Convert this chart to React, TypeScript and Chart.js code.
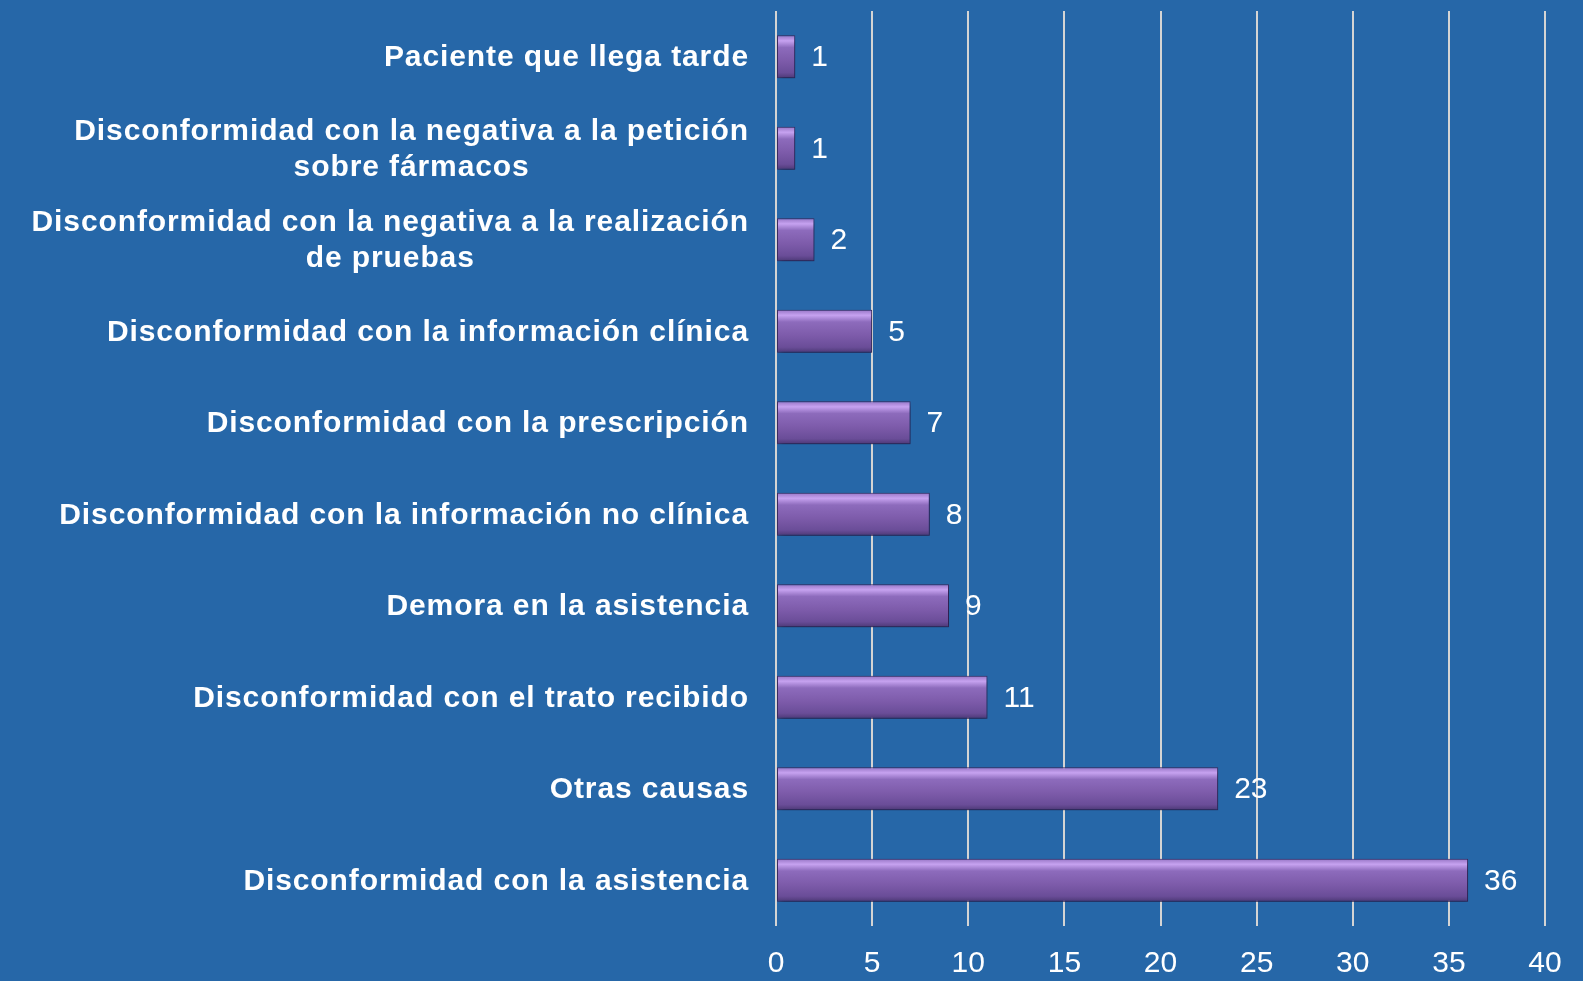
import React, { useEffect, useRef } from "react";
import { Chart, registerables } from "chart.js";

Chart.register(...registerables);

const categories: (string | string[])[] = [
  "Paciente que llega tarde",
  ["Disconformidad con la negativa a la petición", "sobre fármacos"],
  ["Disconformidad con la negativa a la realización", "de pruebas"],
  "Disconformidad con la información clínica",
  "Disconformidad con la prescripción",
  "Disconformidad con la información no clínica",
  "Demora en la asistencia",
  "Disconformidad con el trato recibido",
  "Otras causas",
  "Disconformidad con la asistencia",
];
const values: number[] = [1, 1, 2, 5, 7, 8, 9, 11, 23, 36];
const xTicks: number[] = [0, 5, 10, 15, 20, 25, 30, 35, 40];

const BG = "#2667A8";
const FONT = "'Liberation Sans', Arial, sans-serif";

const valueLabels = {
  id: "valueLabels",
  afterDatasetsDraw(chart: any) {
    const ctx = chart.ctx;
    const meta = chart.getDatasetMeta(0);
    ctx.save();
    ctx.fillStyle = "#ffffff";
    ctx.font = `30px ${FONT}`;
    ctx.textAlign = "left";
    ctx.textBaseline = "middle";
    meta.data.forEach((el: any, i: number) => {
      ctx.fillText(String(values[i]), el.x + 16, el.y + 1);
    });
    ctx.restore();
  },
};

const categoryLabels = {
  id: "categoryLabels",
  afterDraw(chart: any) {
    const ctx = chart.ctx;
    const ys = chart.scales.y;
    const rightX = ys.right - 28;
    ctx.save();
    ctx.fillStyle = "#ffffff";
    ctx.font = `bold 30px ${FONT}`;
    (ctx as any).letterSpacing = "0.9px";
    ctx.textBaseline = "middle";
    const lh = 36;
    categories.forEach((lab, i) => {
      const cy = ys.getPixelForTick(i);
      const lines = Array.isArray(lab) ? lab : [lab];
      const widths = lines.map((l) => ctx.measureText(l).width - 1);
      const maxW = Math.max(...widths);
      const cx = rightX - maxW / 2;
      const y0 = cy - ((lines.length - 1) * lh) / 2 + 1;
      lines.forEach((l, k) => {
        if (lines.length === 1) {
          ctx.textAlign = "right";
          ctx.fillText(l, rightX + 1, y0);
        } else {
          ctx.textAlign = "left";
          ctx.fillText(l, cx - widths[k] / 2, y0 + k * lh);
        }
      });
    });
    ctx.restore();
  },
};

const shadow = {
  id: "barShadow",
  beforeDatasetsDraw(chart: any) {
    const ctx = chart.ctx;
    ctx.save();
    ctx.shadowColor = "rgba(0,0,30,0.45)";
    ctx.shadowBlur = 6;
    ctx.shadowOffsetX = 2;
    ctx.shadowOffsetY = 3;
  },
  afterDatasetsDraw(chart: any) {
    chart.ctx.restore();
  },
};

export default function App() {
  const ref = useRef<HTMLCanvasElement | null>(null);
  useEffect(() => {
    if (!ref.current) return;
    const chart = new Chart(ref.current, {
      type: "bar",
      data: {
        labels: categories,
        datasets: [
          {
            data: values,
            backgroundColor: (c: any) => {
              const ch = c.chart;
              const ys = ch.scales && ch.scales.y;
              if (!ys || c.dataIndex === undefined) return "#7B5AA6";
              const cy = ys.getPixelForValue(c.dataIndex);
              if (!isFinite(cy)) return "#7B5AA6";
              const h = 21;
              const g = ch.ctx.createLinearGradient(0, cy - h, 0, cy + h);
              g.addColorStop(0, "#9A78C8");
              g.addColorStop(0.12, "#C6A2F0");
              g.addColorStop(0.28, "#8D6BBC");
              g.addColorStop(0.6, "#7D5BAA");
              g.addColorStop(0.88, "#6A4D98");
              g.addColorStop(1, "#4E3A78");
              return g;
            },
            borderColor: "#3F2E66",
            borderWidth: 1,
            borderSkipped: false,
            barPercentage: 0.47,
            categoryPercentage: 1,
          },
        ],
      },
      options: {
        indexAxis: "y",
        animation: false,
        responsive: false,
        maintainAspectRatio: false,
        layout: { padding: { top: 11, right: 38, left: 0, bottom: 0 } },
        plugins: {
          legend: { display: false },
          tooltip: { enabled: false },
        },
        scales: {
          x: {
            min: 0,
            max: 40,
            afterBuildTicks: (s: any) => {
              s.ticks = xTicks.map((v) => ({ value: v }));
            },
            grid: {
              color: "#D4D4D4",
              lineWidth: 2,
              drawTicks: true,
              tickLength: 0,
            },
            border: { display: false },
            ticks: {
              color: "#ffffff",
              font: { family: FONT, size: 30 },
              padding: 20,
              maxRotation: 0,
            },
            afterFit: (s: any) => {
              s.height = 55;
              s.paddingRight = 0;
              s.paddingLeft = 0;
            },
          },
          y: {
            grid: { display: false },
            border: { display: false },
            ticks: { display: false },
            afterFit: (s: any) => {
              s.width = 776;
              s.paddingTop = 0;
              s.paddingBottom = 0;
            },
          },
        },
      },
      plugins: [shadow, valueLabels, categoryLabels],
    });
    return () => chart.destroy();
  }, []);
  return (
    <div
      style={{
        position: "absolute",
        left: 0,
        top: 0,
        width: 1583,
        height: 981,
        background: BG,
      }}
    >
      <canvas ref={ref} width={1583} height={981} />
    </div>
  );
}
